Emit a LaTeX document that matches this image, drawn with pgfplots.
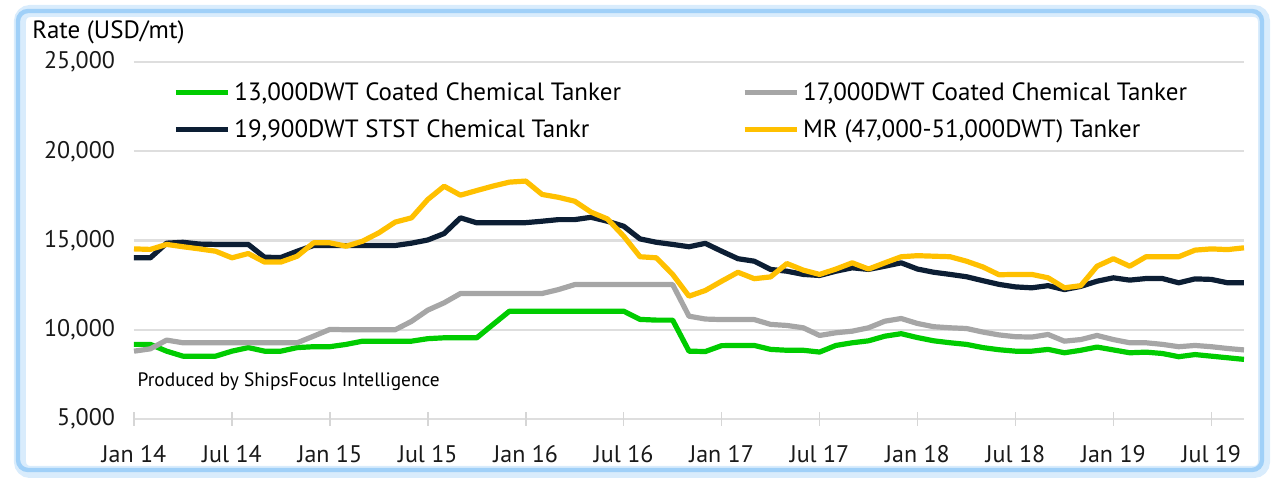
\documentclass[border=0pt]{standalone}
\usepackage{pgfplots}
\pgfplotsset{compat=1.18}
\usepackage{pgfplotstable}
\usepackage{fontspec}
\setmainfont{PT Sans}

\definecolor{cgreen}{RGB}{0,204,0}
\definecolor{cgray}{RGB}{166,166,166}
\definecolor{cnavy}{RGB}{12,30,52}
\definecolor{cyellow}{RGB}{255,192,0}
\definecolor{cframe}{RGB}{160,208,248}

% month index (0 = Jan 14), rates in USD/mt
\pgfplotstableread{
m  g13   g17   s199  mr
0  9180  8800  14030 14530
1  9180  8930  14030 14500
2  8800  9420  14850 14780
3  8520  9270  14900 14650
4  8520  9270  14800 14530
5  8520  9270  14780 14400
6  8800  9270  14780 14030
7  9000  9270  14780 14270
8  8800  9270  14060 13790
9  8800  9270  14050 13790
10 9000  9270  14400 14120
11 9050  9640  14720 14870
12 9050  10020 14720 14870
13 9180  10000 14720 14680
14 9360  10000 14720 14960
15 9360  10000 14720 15430
16 9360  10000 14720 16030
17 9360  10470 14850 16270
18 9500  11100 15030 17300
19 9550  11510 15390 18040
20 9550  12030 16270 17540
21 9550  12030 15990 17800
22 10300 12030 16000 18050
23 11040 12030 16000 18270
24 11040 12030 16000 18330
25 11040 12030 16080 17580
26 11040 12250 16170 17420
27 11040 12530 16170 17200
28 11040 12530 16300 16590
29 11040 12530 16080 16210
30 11040 12530 15800 15240
31 10580 12530 15090 14090
32 10540 12530 14900 14030
33 10540 12530 14780 13100
34 8800  10760 14650 11880
35 8780  10600 14840 12200
36 9110  10570 14400 12720
37 9120  10570 13980 13220
38 9120  10570 13840 12860
39 8900  10300 13380 12960
40 8850  10240 13280 13710
41 8850  10110 13100 13340
42 8750  9680  13040 13100
43 9120  9830  13280 13400
44 9270  9920  13470 13750
45 9380  10110 13380 13400
46 9640  10480 13560 13750
47 9780  10630 13750 14090
48 9560  10350 13400 14150
49 9380  10170 13220 14120
50 9270  10110 13100 14090
51 9180  10070 12970 13840
52 9000  9870  12750 13520
53 8880  9710  12540 13080
54 8800  9610  12400 13100
55 8800  9590  12350 13100
56 8900  9735  12470 12910
57 8710  9360  12250 12350
58 8850  9450  12430 12470
59 9030  9680  12720 13560
60 8870  9450  12910 13980
61 8710  9270  12780 13560
62 8745  9270  12870 14090
63 8670  9180  12870 14090
64 8490  9050  12630 14090
65 8610  9120  12850 14460
66 8520  9050  12820 14530
67 8430  8950  12630 14490
68 8340  8870  12630 14590
}\rates

\begin{document}
\begin{tikzpicture}
\useasboundingbox (-67pt,-31.5pt) rectangle (568.5pt,209.5pt);
% light blue frame
\draw[cframe!40, line width=6pt, rounded corners=5pt] (-57pt,-26.5pt) rectangle (565pt,204pt);
\draw[cframe, line width=2.2pt, rounded corners=5pt] (-58pt,-25.5pt) rectangle (564pt,204pt);
\begin{axis}[
    scale only axis,
    width=555pt, height=178.5pt,
    xmin=0, xmax=68,
    ymin=5000, ymax=25000,
    clip=false,
    axis line style={draw=none},
    ymajorgrids,
    grid style={line width=1.1pt, color=black!13},
    ytick={5000,10000,...,25000},
    scaled y ticks=false,
    ytick style={draw=none},
    xtick={0,6,...,66},
    xticklabels={Jan 14,Jul 14,Jan 15,Jul 15,Jan 16,Jul 16,Jan 17,Jul 17,Jan 18,Jul 18,Jan 19,Jul 19},
    xtick pos=bottom,
    xtick align=center,
    major tick length=7pt,
    xtick style={line width=0.8pt, color=black!16},
    ticklabel style={font=\fontsize{12pt}{14pt}\selectfont, text=black!90},
    xticklabel style={yshift=-6pt},
    yticklabel style={xshift=-6pt, /pgf/number format/.cd, fixed, 1000 sep={,}, assume math mode=true},
    every axis plot/.append style={line width=2.6pt, line join=round},
    legend columns=2,
    legend cell align=left,
    legend image code/.code={\draw[#1] (0pt,0pt) -- (26pt,0pt);},
    legend style={at={(rel axis cs:0.035,0.955)}, anchor=north west,
        draw=none, fill=none, inner sep=0pt, row sep=4pt,
        font=\fontsize{12.5pt}{15pt}\selectfont,
        /tikz/every even column/.append style={column sep=58.5pt}},
]
\addplot[cgreen] table[x=m, y=g13] {\rates};
\addlegendentry{13,000DWT Coated Chemical Tanker}
\addplot[cgray] table[x=m, y=g17] {\rates};
\addlegendentry{17,000DWT Coated Chemical Tanker}
\addplot[cnavy] table[x=m, y=s199] {\rates};
\addlegendentry{19,900DWT STST Chemical Tankr}
\addplot[cyellow] table[x=m, y=mr] {\rates};
\addlegendentry{MR (47,000-51,000DWT) Tanker}
\node[anchor=west, inner sep=0pt, font=\fontsize{9.7pt}{11pt}\selectfont] at (rel axis cs:0.003,0.105) {Produced by ShipsFocus Intelligence};
\node[anchor=west, inner sep=0pt, font=\fontsize{12.5pt}{14pt}\selectfont] at ([xshift=-51pt, yshift=15pt]rel axis cs:0,1) {Rate (USD/mt)};
\end{axis}
\end{tikzpicture}
\end{document}
